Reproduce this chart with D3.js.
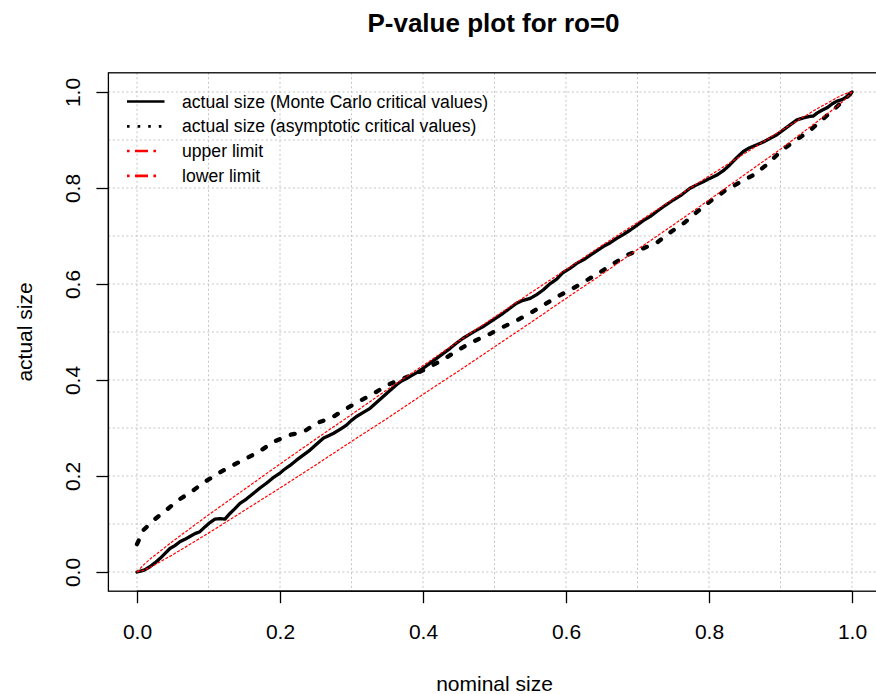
<!DOCTYPE html>
<html>
<head>
<meta charset="utf-8">
<script src="https://cdn.jsdelivr.net/npm/d3@7"></script>
<style>
  html, body { margin: 0; padding: 0; background: #fff; }
  svg text { font-family: "Liberation Sans", Arial, sans-serif; fill: #000; }
</style>
</head>
<body>
<svg id="chart" width="876" height="694"></svg>
<script>
// ---------------- data ----------------
const titleText = "P-value plot for ro=0";
const xTitle = "nominal size";
const yTitle = "actual size";
const tickValues = [0, 0.2, 0.4, 0.6, 0.8, 1.0];
const tickLabels = ["0.0", "0.2", "0.4", "0.6", "0.8", "1.0"];
const gridValues = [0, 0.1, 0.2, 0.3, 0.4, 0.5, 0.6, 0.7, 0.8, 0.9, 1.0];

const legendLabels = [
  "actual size (Monte Carlo critical values)",
  "actual size (asymptotic critical values)",
  "upper limit",
  "lower limit"
];

// Monte Carlo critical values
const mcX = [0,0.005,0.01,0.018,0.025,0.032,0.04,0.046,0.053,0.06,0.067,0.074,0.081,0.088,0.095,0.102,0.109,0.116,0.123,0.13,0.137,0.144,0.153,0.163,0.172,0.181,0.19,0.2,0.205,0.214,0.223,0.232,0.242,0.251,0.261,0.268,0.275,0.284,0.293,0.3,0.307,0.316,0.326,0.335,0.344,0.353,0.363,0.37,0.377,0.385,0.392,0.4,0.41,0.419,0.428,0.438,0.447,0.456,0.465,0.475,0.485,0.494,0.503,0.512,0.521,0.531,0.54,0.55,0.559,0.568,0.578,0.587,0.596,0.606,0.615,0.625,0.634,0.643,0.652,0.662,0.671,0.68,0.69,0.699,0.708,0.718,0.727,0.738,0.75,0.76,0.773,0.782,0.792,0.801,0.811,0.82,0.829,0.838,0.848,0.857,0.867,0.876,0.885,0.895,0.904,0.913,0.923,0.932,0.941,0.946,0.951,0.958,0.965,0.972,0.979,0.986,0.993,1.0];
const mcY = [0,0.002,0.004,0.011,0.019,0.028,0.04,0.049,0.055,0.063,0.068,0.074,0.08,0.084,0.094,0.103,0.11,0.111,0.11,0.122,0.132,0.143,0.152,0.164,0.175,0.185,0.196,0.206,0.2125,0.222,0.233,0.243,0.254,0.266,0.279,0.284,0.289,0.297,0.306,0.316,0.324,0.332,0.341,0.353,0.365,0.377,0.39,0.398,0.403,0.41,0.416,0.424,0.435,0.445,0.455,0.466,0.477,0.487,0.495,0.504,0.512,0.521,0.53,0.539,0.549,0.56,0.566,0.57,0.578,0.5875,0.601,0.61,0.624,0.633,0.643,0.651,0.66,0.669,0.678,0.686,0.695,0.703,0.7125,0.722,0.732,0.741,0.751,0.763,0.775,0.784,0.799,0.806,0.813,0.82,0.827,0.836,0.848,0.862,0.876,0.884,0.89,0.896,0.903,0.911,0.921,0.931,0.942,0.946,0.949,0.95,0.956,0.962,0.967,0.975,0.981,0.984,0.99,1.0];

// asymptotic critical values
const asX = [0,0.009,0.025,0.041,0.058,0.076,0.093,0.112,0.132,0.151,0.172,0.191,0.212,0.233,0.251,0.272,0.291,0.31,0.33,0.351,0.372,0.4,0.41,0.431,0.449,0.47,0.491,0.51,0.531,0.552,0.573,0.592,0.61,0.627,0.645,0.666,0.685,0.706,0.727,0.748,0.766,0.783,0.804,0.822,0.841,0.862,0.883,0.902,0.918,0.939,0.958,0.974,0.99,1.0];
const asY = [0.058,0.0875,0.11,0.129,0.15,0.167,0.186,0.204,0.221,0.235,0.252,0.271,0.285,0.292,0.31,0.321,0.339,0.355,0.371,0.39,0.403,0.42,0.428,0.445,0.4625,0.48,0.494,0.509,0.524,0.541,0.56,0.577,0.591,0.606,0.622,0.642,0.66,0.673,0.686,0.71,0.728,0.75,0.775,0.794,0.81,0.827,0.851,0.879,0.896,0.917,0.942,0.9625,0.985,1.0];

// limits
const limX = [0,0.01,0.02,0.05,0.1,0.15,0.2,0.25,0.3,0.35,0.4,0.45,0.5,0.55,0.6,0.65,0.7,0.75,0.8,0.85,0.9,0.95,0.98,0.99,1.0];
const upperY = [0,0.016,0.029,0.064,0.119,0.172,0.225,0.277,0.328,0.380,0.430,0.481,0.531,0.581,0.630,0.680,0.728,0.777,0.825,0.872,0.919,0.964,0.989,0.996,1.0];
const lowerY = [0,0.004,0.011,0.036,0.081,0.128,0.175,0.223,0.272,0.320,0.370,0.419,0.469,0.519,0.570,0.620,0.672,0.723,0.775,0.828,0.881,0.937,0.971,0.984,1.0];

// ---------------- layout ----------------
const svg = d3.select("#chart");
const pL = 108.4, pR = 880.6, pT = 72.8, pB = 591.2;
const x = d3.scaleLinear().domain([-0.04, 1.04]).range([pL, pR]);
const y = d3.scaleLinear().domain([-0.04, 1.04]).range([pB, pT]);

svg.append("defs").append("clipPath").attr("id", "clip")
  .append("rect").attr("x", pL).attr("y", pT)
  .attr("width", pR - pL).attr("height", pB - pT);

// grid
const grid = svg.append("g").attr("stroke", "#c4c4c4").attr("stroke-width", 1)
  .attr("stroke-dasharray", "2,2.5");
grid.selectAll("line.v").data(gridValues).join("line").attr("class", "v")
  .attr("x1", d => x(d)).attr("x2", d => x(d)).attr("y1", pT).attr("y2", pB);
grid.selectAll("line.h").data(gridValues).join("line").attr("class", "h")
  .attr("y1", d => y(d)).attr("y2", d => y(d)).attr("x1", pL).attr("x2", pR);

// curves
const line = d3.line().x(d => x(d[0])).y(d => y(d[1]));
const plotG = svg.append("g").attr("clip-path", "url(#clip)");
const zipXY = (xs, ys) => xs.map((v, i) => [v, ys[i]]);

plotG.append("path").datum(zipXY(mcX, mcY)).attr("d", line)
  .attr("fill", "none").attr("stroke", "#000").attr("stroke-width", 3.3)
  .attr("stroke-linejoin", "round").attr("stroke-linecap", "round");
plotG.append("path").datum(zipXY(asX, asY)).attr("d", line)
  .attr("fill", "none").attr("stroke", "#000").attr("stroke-width", 4.3)
  .attr("stroke-dasharray", "4,12").attr("stroke-linecap", "round");
plotG.append("path").datum(zipXY(limX, upperY)).attr("d", line)
  .attr("fill", "none").attr("stroke", "#ff0000").attr("stroke-width", 1.2)
  .attr("stroke-dasharray", "3,1.5");
plotG.append("path").datum(zipXY(limX, lowerY)).attr("d", line)
  .attr("fill", "none").attr("stroke", "#ff0000").attr("stroke-width", 1.2)
  .attr("stroke-dasharray", "3,1.5");

// box
svg.append("rect").attr("x", pL).attr("y", pT)
  .attr("width", pR - pL).attr("height", pB - pT)
  .attr("fill", "none").attr("stroke", "#000").attr("stroke-width", 1.3);

// axes
const xAxis = d3.axisBottom(x).tickValues(tickValues)
  .tickFormat((d, i) => tickLabels[i]).tickSize(12);
const gx = svg.append("g").attr("transform", `translate(0,${pB})`).call(xAxis);
gx.select(".domain").attr("d", `M${x(0)},0H${x(1)}`).attr("stroke-width", 1.3);
gx.selectAll(".tick line").attr("stroke-width", 1.3);
gx.selectAll(".tick text").attr("font-size", 21).attr("font-family", "Liberation Sans, Arial, sans-serif")
  .attr("dy", null).attr("y", 47.5);

const yAxis = d3.axisLeft(y).tickValues(tickValues)
  .tickFormat((d, i) => tickLabels[i]).tickSize(12);
const gy = svg.append("g").attr("transform", `translate(${pL},0)`).call(yAxis);
gy.select(".domain").attr("d", `M0,${y(0)}V${y(1)}`).attr("stroke-width", 1.3);
gy.selectAll(".tick line").attr("stroke-width", 1.3);
gy.selectAll(".tick text").attr("font-size", 21).attr("font-family", "Liberation Sans, Arial, sans-serif")
  .attr("x", null).attr("dy", null).attr("y", null)
  .attr("text-anchor", "middle")
  .attr("transform", `translate(${80 - pL},0) rotate(-90)`);

// titles
svg.append("text").attr("x", (pL + pR) / 2 - 1).attr("y", 31.5)
  .attr("text-anchor", "middle").attr("font-size", 26).attr("font-weight", "bold")
  .text(titleText);
svg.append("text").attr("x", (pL + pR) / 2).attr("y", 691)
  .attr("text-anchor", "middle").attr("font-size", 21).text(xTitle);
svg.append("text").attr("transform", `translate(32,${(pT + pB) / 2}) rotate(-90)`)
  .attr("text-anchor", "middle").attr("font-size", 21).text(yTitle);

// legend
const legY = [101.5, 126.3, 151, 175.8];
const legStyles = [
  { stroke: "#000", dash: null },
  { stroke: "#000", dash: "2.6,8" },
  { stroke: "#ff0000", dash: "2.6,5.4,13,5.4,2.6,40" },
  { stroke: "#ff0000", dash: "2.6,5.4,13,5.4,2.6,40" }
];
const leg = svg.append("g");
legendLabels.forEach((lab, i) => {
  leg.append("line").attr("x1", 127).attr("x2", 164.5)
    .attr("y1", legY[i]).attr("y2", legY[i])
    .attr("stroke", legStyles[i].stroke).attr("stroke-width", 2.7)
    .attr("stroke-dasharray", legStyles[i].dash);
  leg.append("text").attr("x", 182).attr("y", legY[i]).attr("dy", "0.35em")
    .attr("font-size", 17.6).text(lab);
});
</script>
</body>
</html>
